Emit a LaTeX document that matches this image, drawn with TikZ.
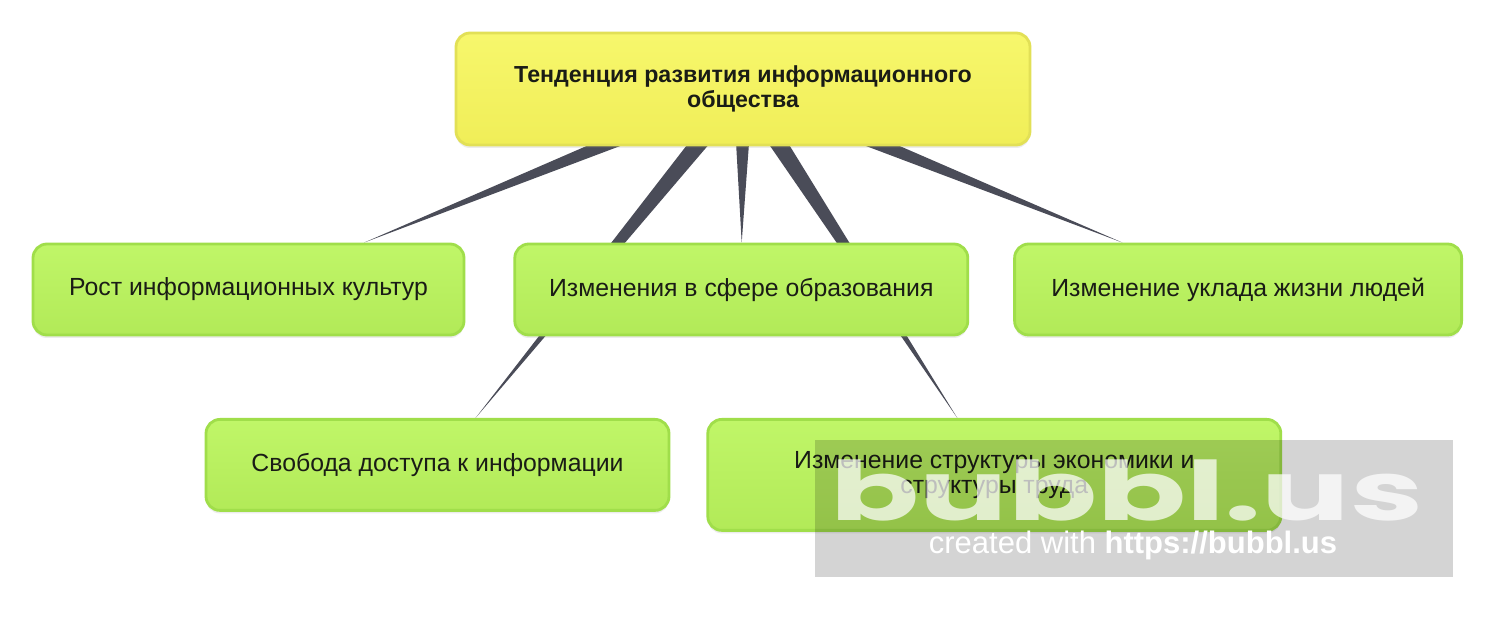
\documentclass[tikz,border=0pt]{standalone}
\usepackage{fontspec}
\setmainfont{Liberation Sans}
\newfontfamily\logofont{Poppins}
\usetikzlibrary{positioning,calc,backgrounds,shadows}
\definecolor{leafG}{RGB}{192,246,104}
\definecolor{leafGd}{RGB}{178,234,88}
\definecolor{leafEdge}{RGB}{160,222,74}
\definecolor{rootY}{RGB}{247,247,108}
\definecolor{rootYd}{RGB}{240,238,88}
\definecolor{rootEdge}{RGB}{226,224,86}
\definecolor{branchC}{RGB}{74,76,88}
\definecolor{inkC}{RGB}{26,28,22}
\tikzset{
  leafbox/.style={rectangle, rounded corners=7pt, draw=leafEdge, line width=1.4pt,
                  top color=leafG, bottom color=leafGd, text=inkC, align=center,
                  font=\fontsize{12.4}{12.6}\selectfont, minimum height=45.5pt,
                  drop shadow={shadow xshift=0pt, shadow yshift=-1.5pt, opacity=0.15}},
  rootbox/.style={rectangle, rounded corners=7pt, draw=rootEdge, line width=1.4pt,
                  top color=rootY, bottom color=rootYd, text=inkC, align=center,
                  font=\bfseries\fontsize{11.6}{12.6}\selectfont,
                  minimum width=287pt, minimum height=56pt,
                  drop shadow={shadow xshift=0pt, shadow yshift=-1.5pt, opacity=0.15}},
  branch/.style={fill=branchC},
}
% tapered connector, wide at the parent, pointed at the child
\newcommand{\branchto}[2]{%
  \path (#1.center) -- coordinate[pos=1] (#2-tip) (#2);
  \fill[branch] ($(#1.center)!5pt!90:(#2-tip)$) -- (#2-tip)
    -- ($(#1.center)!5pt!-90:(#2-tip)$) -- cycle;}

\begin{document}
\begin{tikzpicture}[x=0.5pt, y=-0.5pt, node distance=24pt]
  \useasboundingbox (0,0) rectangle (1500,624);

  \node[rootbox] (trend) at (743,89)
    {Тенденция развития информационного\\общества};

  \node[leafbox, minimum width=215.5pt] (culture) at (248.5,289.5)
    {Рост информационных культур};
  \node[leafbox, minimum width=226.5pt, right=of culture] (educ)
    {Изменения в сфере образования};
  \node[leafbox, minimum width=223.5pt, right=22pt of educ] (life)
    {Изменение уклада жизни людей};

  \node[leafbox, minimum width=231.5pt, anchor=north] (access) at (437.5,418)
    {Свобода доступа к информации};
  \node[leafbox, minimum width=286.5pt, minimum height=55.5pt,
        right=18pt of access.north east, anchor=north west] (econ)
    {Изменение структуры экономики и\\структуры труда};

  \begin{scope}[on background layer]
    \fill[white] (0,0) rectangle (1500,624);
    \branchto{trend}{culture}
    \branchto{trend}{access}
    \branchto{trend}{educ}
    \branchto{trend}{econ}
    \branchto{trend}{life}
  \end{scope}

  % watermark
  \fill[black, opacity=0.17] (815,440) rectangle (1453,577);
  \node[text=white, opacity=0.72, font=\logofont\bfseries\fontsize{41}{41}\selectfont,
        xscale=1.6, transform shape] (logo) at (1127,490) {bubbl.us};
  \node[text=white, font=\fontsize{15.5}{15.5}\selectfont] (credit) at (1133,545)
    {created with \textbf{https://bubbl.us}};
\end{tikzpicture}
\end{document}
